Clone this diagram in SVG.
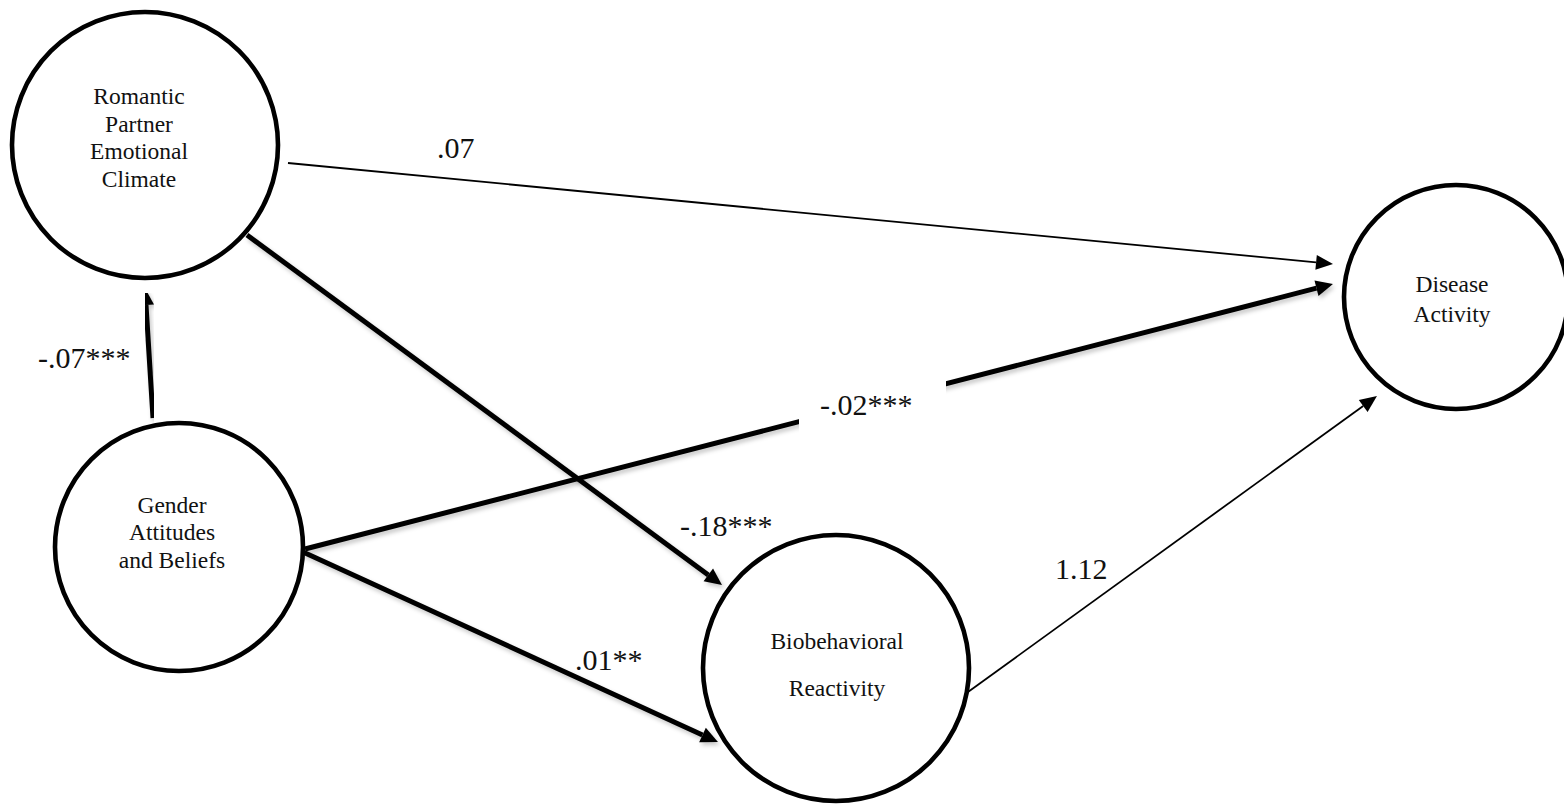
<svg xmlns="http://www.w3.org/2000/svg" width="1564" height="805" viewBox="0 0 1564 805">
  <style>
    .node circle { fill: #ffffff; stroke: #000000; stroke-width: 4.6; }
    .node text { font-family: "Liberation Serif", "Times New Roman", serif; font-size: 23.5px; fill: #111111; text-anchor: middle; }
    .thick { stroke: #000000; stroke-width: 5; fill: none; marker-end: url(#headThick); filter: url(#soft); }
    .thin { stroke: #000000; stroke-width: 1.8; fill: none; marker-end: url(#headThin); }
    .coef { font-family: "Liberation Serif", "Times New Roman", serif; font-size: 30px; fill: #111111; }
  </style>
  <defs>
    <filter id="soft" x="-10%" y="-10%" width="120%" height="130%">
      <feDropShadow dx="2" dy="3" stdDeviation="2" flood-color="#000000" flood-opacity="0.22"/>
    </filter>
    <marker id="headThick" markerUnits="userSpaceOnUse" markerWidth="20" markerHeight="18" refX="0" refY="8" orient="auto" overflow="visible">
      <path d="M0,0 L17,8 L0,16 z" fill="#000000"/>
    </marker>
    <marker id="headThin" markerUnits="userSpaceOnUse" markerWidth="20" markerHeight="18" refX="0" refY="7.5" orient="auto" overflow="visible">
      <path d="M0,0 L17,7.5 L0,15 z" fill="#000000"/>
    </marker>
  </defs>

  <rect width="1564" height="805" fill="#ffffff"/>

  <!-- paths between the constructs -->
  <g id="connectors">
    <line class="thin" x1="288" y1="163" x2="1316.1" y2="262.4"/>
    <line class="thick" x1="305" y1="549" x2="1316.5" y2="288.2"/>
    <line class="thick" x1="247" y1="235" x2="708.3" y2="574.9"/>
    <line class="thick" x1="303" y1="552" x2="702.5" y2="734.9"/>
    <line class="thick" x1="153" y1="418" x2="146" y2="305"/>
    <line class="thin" x1="968" y1="692" x2="1363.2" y2="406"/>
  </g>

  <!-- path coefficients -->
  <g id="labels">
    <text class="coef" x="437" y="158">.07</text>
    <text class="coef" x="38" y="368">-.07***</text>
    <rect x="799" y="376" width="147" height="56" fill="#ffffff"/>
    <text class="coef" x="820" y="415">-.02***</text>
    <text class="coef" x="680" y="536">-.18***</text>
    <text class="coef" x="575" y="670">.01**</text>
    <text class="coef" x="1055" y="579">1.12</text>
  </g>

  <g id="romantic" class="node">
    <circle cx="145" cy="145" r="133"/>
    <text x="139" y="104">Romantic</text>
    <text x="139" y="131.5">Partner</text>
    <text x="139" y="159">Emotional</text>
    <text x="139" y="186.5">Climate</text>
  </g>

  <g id="gender" class="node">
    <circle cx="179" cy="547" r="124"/>
    <text x="172" y="513">Gender</text>
    <text x="172" y="540">Attitudes</text>
    <text x="172" y="568">and Beliefs</text>
  </g>

  <g id="biobehavioral" class="node">
    <circle cx="836" cy="668" r="133"/>
    <text x="837" y="649">Biobehavioral</text>
    <text x="837" y="696">Reactivity</text>
  </g>

  <g id="disease" class="node">
    <circle cx="1456" cy="297" r="112"/>
    <text x="1452" y="292">Disease</text>
    <text x="1452" y="322">Activity</text>
  </g>
</svg>
